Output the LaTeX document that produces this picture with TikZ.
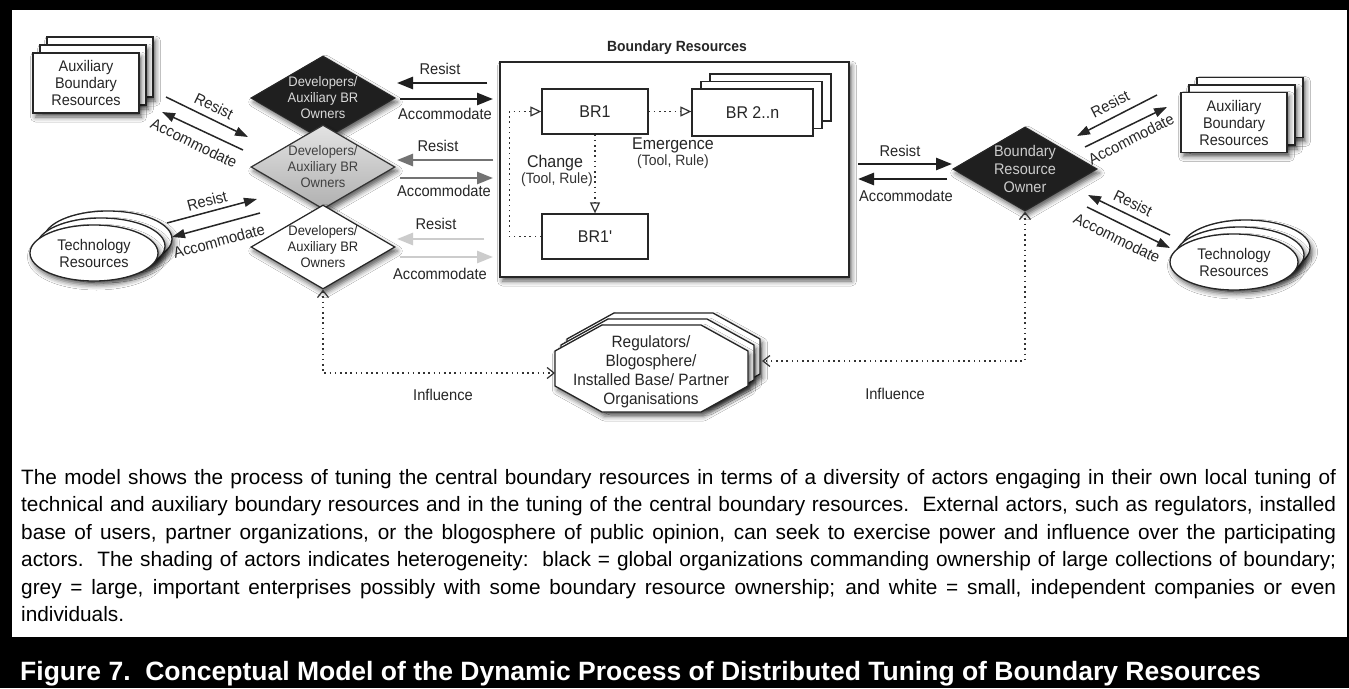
\documentclass[tikz,border=0pt]{standalone}
\usepackage{fontspec}
\setmainfont{Liberation Sans}
\newfontfamily\dfont{Liberation Sans}[FakeStretch=0.94]
\usetikzlibrary{shapes.geometric,arrows.meta,shadows.blur,calc}
\begin{document}
\begin{tikzpicture}[x=1pt,y=-1pt,
  shad/.style={blur shadow={shadow xshift=2.5pt,shadow yshift=-4pt,shadow blur radius=5pt,shadow opacity=65}},
  lbl/.style={font=\dfont\fontsize{15.6pt}{18pt}\selectfont, inner sep=0pt, text=black!85},
  smalltxt/.style={font=\dfont\fontsize{14.9pt}{18pt}\selectfont, inner sep=0pt, text=black!80},
  midtxt/.style={font=\dfont\fontsize{17pt}{20pt}\selectfont, inner sep=0pt, text=black!85},
  dtext/.style={font=\dfont\fontsize{13.8pt}{16pt}\selectfont, align=center, inner sep=0pt},
  card/.style={draw=black!85, line width=1.3pt, fill=white, shad, minimum width=106pt, minimum height=60pt, inner sep=0pt, align=center, font=\dfont\fontsize{15.4pt}{17pt}\selectfont, text=black!85},
  oval/.style={ellipse, draw=black!85, line width=1.3pt, fill=white, shad, minimum width=128pt, minimum height=56pt, inner sep=0pt, align=center, font=\dfont\fontsize{15.4pt}{17pt}\selectfont, text=black!85},
  actor/.style={diamond, minimum width=144pt, minimum height=84pt, inner sep=0pt, draw=black!85, line width=1.2pt, shad},
  brbox/.style={draw=black!85, line width=1.3pt, fill=white, inner sep=0pt, font=\dfont\fontsize{17pt}{20pt}\selectfont, text=black!85},
  octo/.style={draw=black!85, line width=1.3pt, fill=white, shad},
  fat/.style={line width=2.6pt, -{Triangle[length=16pt,width=12pt]}},
  thinarr/.style={line width=1.5pt, draw=black!85, -{Triangle[length=13pt,width=9pt]}},
  dotarr/.style={line width=1.4pt, dash pattern=on 1.6pt off 3.6pt, draw=black!80, -{Triangle[open,length=11pt,width=10pt,line width=1.2pt]}},
  infl/.style={line width=1.4pt, dash pattern=on 1.6pt off 3.6pt, draw=black!80, {Straight Barb[length=7pt,width=11pt,line width=1.2pt]}-{Straight Barb[length=7pt,width=11pt,line width=1.2pt]}},
  captxt/.style={anchor=base west, inner sep=0pt, font=\fontsize{20.8pt}{26pt}\selectfont}
]
\useasboundingbox (0,0) rectangle (1349,688);
% frame
\fill[black] (0,0) rectangle (1349,688);
\fill[white] (12,10) rectangle (1347,637);

% ---- left auxiliary boundary resources (stack)
\node[card] (auxLb2) at (100,67) {};
\node[card] (auxLb1) at (93,75) {};
\node[card] (auxL) at (86,83) {Auxiliary\\Boundary\\Resources};

% ---- left technology resources (stack)
\node[oval] (techLb2) at (108,239) {};
\node[oval] (techLb1) at (101,246) {};
\node[oval] (techL) at (94,253) {Technology\\Resources};

% ---- developer diamonds
\node[actor, fill=black!88] (devB) at (323,98) {};
\node[actor, top color=gray!22, bottom color=gray!62, draw=black!80] (devG) at (323,167) {};
\node[actor, fill=white] (devW) at (323,247) {};
\node[dtext, text=gray!30] (devBt) at (323,98) {Developers/\\Auxiliary BR\\Owners};
\node[dtext, text=black!75] (devGt) at (323,167) {Developers/\\Auxiliary BR\\Owners};
\node[dtext, text=black!85] (devWt) at (323,247) {Developers/\\Auxiliary BR\\Owners};

% ---- central boundary resources box
\node[brbox, shad, minimum width=349pt, minimum height=215pt] (br) at (674.5,169.5) {};
\node[font=\dfont\bfseries\fontsize{14.8pt}{17pt}\selectfont, inner sep=0pt, text=black!85] (brtitle) at (677,48) {Boundary Resources};
\node[brbox, minimum width=106pt, minimum height=45pt] (br1) at (595,111.5) {BR1};
\node[brbox, minimum width=121pt, minimum height=47pt] (br2b2) at (770.5,97.5) {};
\node[brbox, minimum width=121pt, minimum height=47pt] (br2b1) at (761.5,105) {};
\node[brbox, minimum width=121pt, minimum height=47pt] (br2) at (752.5,112.5) {BR 2..n};
\node[brbox, minimum width=106pt, minimum height=45pt] (br1p) at (595,236.5) {BR1'};
\draw[dotarr] (br1.east) -- (br1.east -| br2.west);
\draw[dotarr] (br1.south) -- (br1p.north);
\draw[dotarr] (br1p.west) -- ++(-32,0) |- (br1.west);
\node[midtxt] (emerg) at (673,145) {Emergence};
\node[smalltxt] (emergtr) at (673,161.5) {(Tool, Rule)};
\node[midtxt] (chg) at (555,163) {Change};
\node[smalltxt] (chgtr) at (557,180) {(Tool, Rule)};

% ---- arrows developers <-> boundary resources
\coordinate (p1a) at (487,83);  \coordinate (p1b) at (397,83);
\coordinate (p1c) at (400,99);  \coordinate (p1d) at (493,99);
\coordinate (p2a) at (493,160); \coordinate (p2b) at (397,160);
\coordinate (p2c) at (400,178); \coordinate (p2d) at (493,178);
\coordinate (p3a) at (484,239); \coordinate (p3b) at (397,239);
\coordinate (p3c) at (400,257); \coordinate (p3d) at (493,257);
\draw[fat, draw=black!88, fill=black!88] (p1a) -- (p1b);
\draw[fat, draw=black!88, fill=black!88] (p1c) -- (p1d);
\draw[fat, draw=black!55, fill=black!55] (p2a) -- (p2b);
\draw[fat, draw=black!55, fill=black!55] (p2c) -- (p2d);
\draw[fat, draw=black!20, fill=black!20] (p3a) -- (p3b);
\draw[fat, draw=black!20, fill=black!20] (p3c) -- (p3d);
\node[lbl] (r1) at (440,69) {Resist};
\node[lbl] (a1) at (445,114) {Accommodate};
\node[lbl] (r2) at (438,146) {Resist};
\node[lbl] (a2) at (444,191) {Accommodate};
\node[lbl] (r3) at (436,224) {Resist};
\node[lbl] (a3) at (440,274) {Accommodate};

% ---- left diagonal arrows
\coordinate (q1a) at (166,97);  \coordinate (q1b) at (248,137);
\coordinate (q1c) at (243,150); \coordinate (q1d) at (162,112);
\draw[thinarr] (q1a) -- (q1b);
\draw[thinarr] (q1c) -- (q1d);
\node[lbl, rotate=-26] (qr1) at (214,106) {Resist};
\node[lbl, rotate=-26] (qa1) at (194,143) {Accommodate};
\coordinate (q2a) at (167,223); \coordinate (q2b) at (257,199);
\coordinate (q2c) at (260,213); \coordinate (q2d) at (172,237);
\draw[thinarr] (q2a) -- (q2b);
\draw[thinarr] (q2c) -- (q2d);
\node[lbl, rotate=15] (qr2) at (207,201) {Resist};
\node[lbl, rotate=15] (qa2) at (219,241) {Accommodate};

% ---- boundary resource owner
\node[actor, fill=black!88] (bro) at (1025,169) {};
\node[dtext, font=\dfont\fontsize{15.4pt}{18pt}\selectfont, text=gray!40] (brot) at (1025,169) {Boundary\\Resource\\Owner};
\coordinate (s1a) at (858,164); \coordinate (s1b) at (952,164);
\coordinate (s1c) at (947,179); \coordinate (s1d) at (858,179);
\draw[fat, draw=black!88, fill=black!88] (s1a) -- (s1b);
\draw[fat, draw=black!88, fill=black!88] (s1c) -- (s1d);
\node[lbl] (sr) at (900,151) {Resist};
\node[lbl] (sa) at (906,196) {Accommodate};

% ---- right auxiliary boundary resources
\node[card] (auxRb2) at (1250,107.5) {};
\node[card] (auxRb1) at (1242,115) {};
\node[card] (auxR) at (1234,122.5) {Auxiliary\\Boundary\\Resources};
% ---- right technology resources
\node[oval] (techRb2) at (1246,248) {};
\node[oval] (techRb1) at (1240,255) {};
\node[oval] (techR) at (1234,262) {Technology\\Resources};

\coordinate (t1a) at (1157,95);  \coordinate (t1b) at (1077,136);
\coordinate (t1c) at (1085,147); \coordinate (t1d) at (1167,107);
\draw[thinarr] (t1a) -- (t1b);
\draw[thinarr] (t1c) -- (t1d);
\node[lbl, rotate=27] (tr1) at (1110,104) {Resist};
\node[lbl, rotate=27] (ta1) at (1131,139) {Accommodate};
\coordinate (t2a) at (1170,235); \coordinate (t2b) at (1088,195);
\coordinate (t2c) at (1087,207); \coordinate (t2d) at (1170,248);
\draw[thinarr] (t2a) -- (t2b);
\draw[thinarr] (t2c) -- (t2d);
\node[lbl, rotate=-26] (tr2) at (1133,203) {Resist};
\node[lbl, rotate=-26] (ta2) at (1117,238) {Accommodate};

% ---- regulators octagon (stack)
\foreach \s in {12,6,0}{
  \draw[octo, shift={(\s,-\s)}] (555,351) -- (602,325) -- (701,325) -- (748,351) -- (748,386) -- (701,412) -- (602,412) -- (555,386) -- cycle;
}
\node[font=\dfont\fontsize{16.4pt}{19pt}\selectfont, align=center, inner sep=0pt, text=black!85] (reg) at (651,372) {Regulators/\\Blogosphere/\\Installed Base/ Partner\\Organisations};
\coordinate (regW) at (555,373);
\coordinate (regE) at (762,361);
\draw[infl] (devW.south) |- (regW);
\draw[infl] (bro.south) |- (regE);
\node[lbl] (inf1) at (443,395) {Influence};
\node[lbl] (inf2) at (895,394) {Influence};

% ---- caption
\node[captxt] (c1) at (21,484) {\makebox[1315pt][s]{The model shows the process of tuning the central boundary resources in terms of a diversity of actors engaging in their own local tuning of}};
\node[captxt] (c2) at (21,511.5) {\makebox[1315pt][s]{technical and auxiliary boundary resources and in the tuning of the central boundary resources.\ \ External actors, such as regulators, installed}};
\node[captxt] (c3) at (21,539) {\makebox[1315pt][s]{base of users, partner organizations, or the blogosphere of public opinion, can seek to exercise power and influence over the participating}};
\node[captxt] (c4) at (21,566.5) {\makebox[1315pt][s]{actors.\ \ The shading of actors indicates heterogeneity:\ \ black = global organizations commanding ownership of large collections of boundary;}};
\node[captxt] (c5) at (21,594) {\makebox[1315pt][s]{grey = large, important enterprises possibly with some boundary resource ownership; and white = small, independent companies or even}};
\node[captxt] (c6) at (21,621.5) {individuals.};
\node[anchor=base west, inner sep=0pt, text=white, font=\bfseries\fontsize{26.5pt}{30pt}\selectfont] (fig) at (20,680) {Figure 7.\ \ Conceptual Model of the Dynamic Process of Distributed Tuning of Boundary Resources};
\end{tikzpicture}
\end{document}
